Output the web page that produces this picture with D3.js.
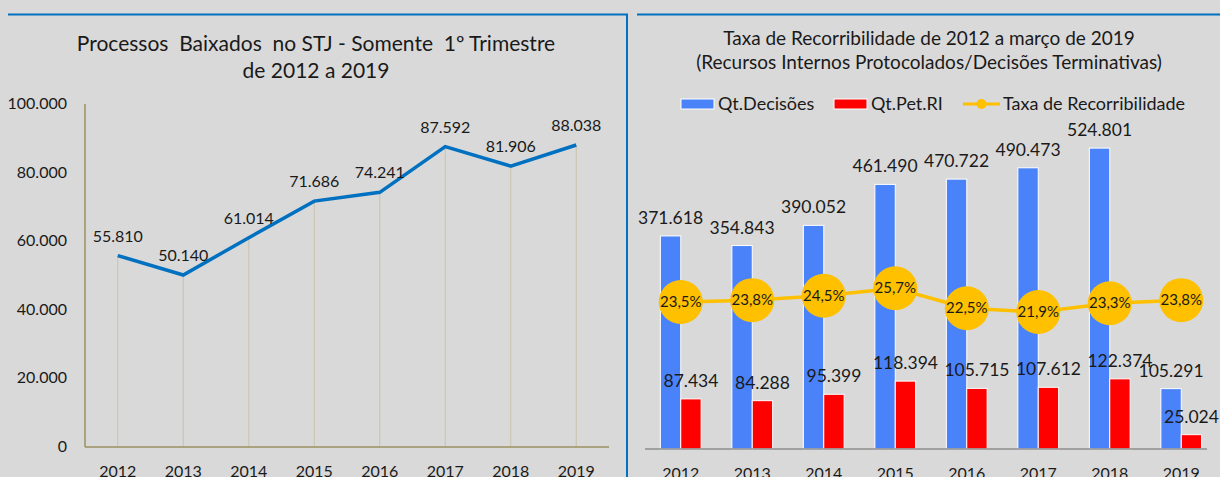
<!DOCTYPE html>
<html>
<head>
<meta charset="utf-8">
<script src="https://cdn.jsdelivr.net/npm/d3@7"></script>
<style>
  body { margin: 0; background: #d9d9d9; }
  svg text { font-family: Lato, "Open Sans", sans-serif; fill: #1a1a1a; }
</style>
</head>
<body>
<svg id="chart" width="1220" height="477"></svg>
<script>
// ---- data
const years = ["2012", "2013", "2014", "2015", "2016", "2017", "2018", "2019"];
const baixados = [55810, 50140, 61014, 71686, 74241, 87592, 81906, 88038];
const leftTicks = [0, 20000, 40000, 60000, 80000, 100000];

const qtDecisoes = [371618, 354843, 390052, 461490, 470722, 490473, 524801, 105291];
const qtPetRI = [87434, 84288, 95399, 118394, 105715, 107612, 122374, 25024];
const taxa = [0.235, 0.238, 0.245, 0.257, 0.225, 0.219, 0.233, 0.238];

const seriesNames = ["Qt.Decisões", "Qt.Pet.RI", "Taxa de Recorribilidade"];

const fmt = d3.formatLocale({ decimal: ",", thousands: ".", grouping: [3], currency: ["R$", ""] });
const fmtNum = fmt.format(",.0f");
const fmtPct = fmt.format(".1%");

const svg = d3.select("#chart");

// panel borders
svg.append("path")
  .attr("d", "M8,14.5 H627 V477")
  .attr("fill", "none").attr("stroke", "#0070c0").attr("stroke-width", 2);
svg.append("line")
  .attr("x1", 637).attr("x2", 1220).attr("y1", 14.5).attr("y2", 14.5)
  .attr("stroke", "#0070c0").attr("stroke-width", 2);

// ##########################################   LEFT CHART
const gl = svg.append("g");

gl.append("text").attr("x", 316).attr("y", 51).attr("text-anchor", "middle")
  .style("font-size", "21px").attr("xml:space", "preserve")
  .text("Processos  Baixados  no STJ - Somente  1º Trimestre");
gl.append("text").attr("x", 316).attr("y", 78).attr("text-anchor", "middle")
  .style("font-size", "21px").text("de 2012 a 2019");

const xl = d3.scalePoint().domain(years).range([85, 609]).padding(0.5);
const yl = d3.scaleLinear().domain([0, 100000]).range([447, 104]);

// y tick labels
gl.selectAll("text.ytick").data(leftTicks).join("text")
  .attr("class", "ytick")
  .attr("x", 67).attr("y", d => yl(d) + 5)
  .attr("text-anchor", "end").style("font-size", "16px")
  .text(d => fmtNum(d));

// drop lines
gl.selectAll("line.drop").data(baixados).join("line")
  .attr("class", "drop")
  .attr("x1", (d, i) => xl(years[i])).attr("x2", (d, i) => xl(years[i]))
  .attr("y1", d => yl(d)).attr("y2", yl(0))
  .attr("stroke", "#c9c2ab").attr("stroke-width", 1);

// axes lines
gl.append("line").attr("x1", 85).attr("x2", 85).attr("y1", yl(100000)).attr("y2", yl(0))
  .attr("stroke", "#9b9160").attr("stroke-width", 1.5);
gl.append("line").attr("x1", 85).attr("x2", 609).attr("y1", yl(0)).attr("y2", yl(0))
  .attr("stroke", "#9b9160").attr("stroke-width", 1.5);

// line
gl.append("path")
  .datum(baixados)
  .attr("d", d3.line().x((d, i) => xl(years[i])).y(d => yl(d)))
  .attr("fill", "none").attr("stroke", "#0070c0").attr("stroke-width", 3.5)
  .attr("stroke-linejoin", "miter");

// data labels
gl.selectAll("text.val").data(baixados).join("text")
  .attr("class", "val")
  .attr("x", (d, i) => xl(years[i])).attr("y", d => yl(d) - 14)
  .attr("text-anchor", "middle").style("font-size", "16px")
  .text(d => fmtNum(d));

// x labels
gl.selectAll("text.xtick").data(years).join("text")
  .attr("class", "xtick")
  .attr("x", d => xl(d)).attr("y", 477)
  .attr("text-anchor", "middle").style("font-size", "16px")
  .text(d => d);

// ##########################################   RIGHT CHART
const gr = svg.append("g");

gr.append("text").attr("x", 929).attr("y", 45).attr("text-anchor", "middle")
  .style("font-size", "19px").text("Taxa de Recorribilidade de 2012 a março de 2019");
gr.append("text").attr("x", 929).attr("y", 69).attr("text-anchor", "middle")
  .style("font-size", "19px").text("(Recursos Internos Protocolados/Decisões Terminativas)");

const colors = ["#4a82fa", "#ff0000", "#ffc000"];

// legend
const legendX = [681, 834, 963];
const leg = gr.selectAll("g.leg").data(seriesNames).join("g")
  .attr("class", "leg")
  .attr("transform", (d, i) => `translate(${legendX[i]},104)`);
leg.filter((d, i) => i < 2).append("rect")
  .attr("x", 0).attr("y", -5).attr("width", 33).attr("height", 10)
  .attr("fill", (d, i) => colors[i]).attr("stroke", "#fff").attr("stroke-width", 1);
leg.filter((d, i) => i === 2).append("line")
  .attr("x1", 0).attr("x2", 37).attr("y1", 0).attr("y2", 0)
  .attr("stroke", colors[2]).attr("stroke-width", 3);
leg.filter((d, i) => i === 2).append("circle")
  .attr("cx", 18.5).attr("cy", 0).attr("r", 5).attr("fill", colors[2]);
leg.append("text")
  .attr("x", (d, i) => i < 2 ? 37 : 40).attr("y", 6)
  .style("font-size", "18px").text(d => d);

const xr = d3.scaleBand().domain(years).range([645, 1217]).paddingInner(0.43).paddingOuter(0.215);
const xsub = d3.scaleBand().domain([0, 1]).range([0, xr.bandwidth()]);
const yr = d3.scaleLinear().domain([0, 600000]).range([449, 105]);
const yr2 = d3.scaleLinear().domain([0, 0.55]).range([449, 105]);

const barSeries = [qtDecisoes, qtPetRI];
barSeries.forEach((vals, s) => {
  gr.selectAll(`rect.bar${s}`).data(vals).join("rect")
    .attr("class", `bar${s}`)
    .attr("x", (d, i) => xr(years[i]) + xsub(s))
    .attr("width", xsub.bandwidth())
    .attr("y", d => yr(d))
    .attr("height", d => yr(0) - yr(d))
    .attr("fill", colors[s]).attr("stroke", "#fff").attr("stroke-width", 1);
  gr.selectAll(`text.bv${s}`).data(vals).join("text")
    .attr("class", `bv${s}`)
    .attr("x", (d, i) => xr(years[i]) + xsub(s) + xsub.bandwidth() / 2)
    .attr("y", d => yr(d) - 12)
    .attr("text-anchor", "middle").style("font-size", "17.5px")
    .text(d => fmtNum(d));
});

// x axis line
gr.append("line").attr("x1", 645).attr("x2", 1207).attr("y1", yr(0)).attr("y2", yr(0))
  .attr("stroke", "#8c8c8c").attr("stroke-width", 1.5);

// taxa line
const cx = (i) => xr(years[i]) + xr.bandwidth() / 2;
gr.append("path").datum(taxa)
  .attr("d", d3.line().x((d, i) => cx(i)).y(d => yr2(d)))
  .attr("fill", "none").attr("stroke", colors[2]).attr("stroke-width", 3.5);
gr.selectAll("circle.tx").data(taxa).join("circle")
  .attr("class", "tx")
  .attr("cx", (d, i) => cx(i)).attr("cy", d => yr2(d)).attr("r", 22)
  .attr("fill", colors[2]);
gr.selectAll("text.txl").data(taxa).join("text")
  .attr("class", "txl")
  .attr("x", (d, i) => cx(i)).attr("y", d => yr2(d) + 5)
  .attr("text-anchor", "middle").style("font-size", "15px")
  .text(d => fmtPct(d));

// x labels
gr.selectAll("text.xtick").data(years).join("text")
  .attr("class", "xtick")
  .attr("x", d => xr(d) + xr.bandwidth() / 2).attr("y", 479)
  .attr("text-anchor", "middle").style("font-size", "16px")
  .text(d => d);
</script>
</body>
</html>
